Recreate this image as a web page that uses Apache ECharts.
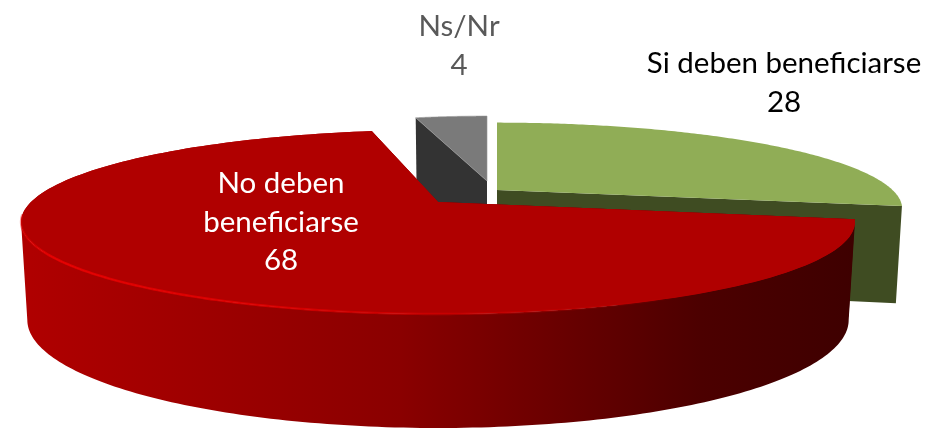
<!DOCTYPE html>
<html>
<head>
<meta charset="utf-8">
<style>html,body{margin:0;padding:0;background:#fff}#c{width:935px;height:433px}</style>
<script src="https://cdn.jsdelivr.net/npm/echarts@6/dist/echarts.min.js"></script>
</head>
<body>
<div id="c"></div>
<script>
// ---- data ----
var categories = ['Si deben beneficiarse', 'No deben beneficiarse', 'Ns/Nr'];
var values = [28, 68, 4];
var labelTexts = ['Si deben beneficiarse', 'No deben\nbeneficiarse', 'Ns/Nr'];

// ---- drawing style ----
var drawOrder = [2, 0, 1];
var slicePlacement = [
  { cx: 497, cy: 190, rx: 395.5, ry: 82, endShift: 0 },
  { cx: 438, cy: 202, rx: 407, ry: 87.7, endShift: 3 },
  { cx: 487, cy: 181, rx: 347, ry: 79, endShift: 0 }
];
var topColors = ['#90AD56', '#B00000', '#7A7A7A'];
var redWall = { type: 'linear', x: 0, y: 0, x2: 1, y2: 0, colorStops: [
  { offset: 0, color: '#B00000' }, { offset: 0.455, color: '#8A0000' },
  { offset: 0.815, color: '#4C0000' }, { offset: 1, color: '#3E0000' } ] };
var wallColors = ['#3F4C22', redWall, '#333333'];
var labelPlacement = [
  { x: 784, y: 83, fill: '#000000' },
  { x: 281, y: 222, fill: '#FFFFFF' },
  { x: 459, y: 46, fill: '#595959' }
];
var perspective = 0.217, depthY = 94.5, bottomRyScale = 1.174, bottomRxScale = 0.985;
var total = values.reduce(function (a, b) { return a + b; }, 0);

function rim(s, deg, bottom) {
  var t = deg * Math.PI / 180, u = Math.sin(t), v = Math.cos(t), w = 1 + perspective * v;
  var rx = bottom ? s.rx * bottomRxScale : s.rx;
  var ry = bottom ? s.ry * bottomRyScale : s.ry;
  return [s.cx + rx * u / w, s.cy + (bottom ? depthY : 0) - ry * v / w];
}
function arc(s, a, b, bottom) {
  var pts = [], n = 160;
  for (var i = 0; i <= n; i++) pts.push(rim(s, a + (b - a) * i / n, bottom));
  return pts;
}
function sliceAngles(i) {
  var before = 0;
  for (var k = 0; k < i; k++) before += values[k];
  return [before / total * 360, (before + values[i]) / total * 360 + slicePlacement[i].endShift];
}

function renderItem(params, api) {
  var i = api.value(0);
  var s = slicePlacement[i], ang = sliceAngles(i), a = ang[0], b = ang[1];
  var apex = [s.cx, s.cy], apexB = [s.cx, s.cy + depthY];
  var top = [apex].concat(arc(s, a, b, false));
  var children = [];
  // cut walls
  children.push({ type: 'polygon', shape: { points: [apex, rim(s, a, false), rim(s, a, true), apexB] }, style: { fill: i === 1 ? '#3E0000' : wallColors[i] } });
  children.push({ type: 'polygon', shape: { points: [apex, rim(s, b, false), rim(s, b, true), apexB] }, style: { fill: i === 1 ? '#8A0000' : wallColors[i] } });
  // outer wall: only the front-facing part, between the two silhouette points of the rim
  if (i === 1) {
    var sil = Math.acos(-perspective) * 180 / Math.PI;
    var upper = arc(s, Math.max(a, sil), 360 - sil, false), lower = arc(s, Math.max(a, sil), 360 - sil, true).reverse();
    children.push({ type: 'polygon', shape: { points: top }, style: { fill: topColors[i] } });
    children.push({ type: 'polygon', shape: { points: upper.concat(lower) }, style: { fill: wallColors[i] } });
  }
  // top face
  children.push({ type: 'polygon', shape: { points: top }, style: { fill: topColors[i], stroke: i === 2 ? 'rgba(150,150,150,0.6)' : null, lineWidth: i === 2 ? 1 : 0 } });
  // glint along the front rim of the big slice
  if (i === 1) {
    children.push({ type: 'polyline', shape: { points: arc(s, 150, 262, false) },
      style: { fill: null, lineWidth: 2.4, stroke: { type: 'linear', x: 0, y: 0, x2: 1, y2: 0, colorStops: [
        { offset: 0, color: 'rgba(232,0,0,0.35)' }, { offset: 0.05, color: 'rgba(232,0,0,0.9)' },
        { offset: 0.4, color: 'rgba(232,0,0,0.7)' }, { offset: 0.8, color: 'rgba(224,0,0,0.25)' },
        { offset: 1, color: 'rgba(224,0,0,0)' } ] } } });
  }
  return { type: 'group', children: children };
}

function renderLabel(params, api) {
  var i = api.value(0), p = labelPlacement[i];
  return { type: 'text', style: { x: p.x, y: p.y, text: labelTexts[i] + '\n' + values[i],
    fill: p.fill, font: '29.5px Lato, "Open Sans", sans-serif', lineHeight: 38.5,
    align: 'center', verticalAlign: 'middle' } };
}

var chart = echarts.init(document.getElementById('c'), null, { renderer: 'canvas' });
chart.setOption({
  animation: false,
  backgroundColor: '#ffffff',
  xAxis: { show: false }, yAxis: { show: false },
  series: [
    { type: 'custom', coordinateSystem: 'none', silent: true, renderItem: renderItem,
      data: drawOrder.map(function (i) { return { name: categories[i], value: [i, values[i]] }; }) },
    { type: 'custom', coordinateSystem: 'none', silent: true, renderItem: renderLabel, z: 5,
      data: categories.map(function (c, i) { return { name: c, value: [i, values[i]] }; }) }
  ]
});
</script>
</body>
</html>
